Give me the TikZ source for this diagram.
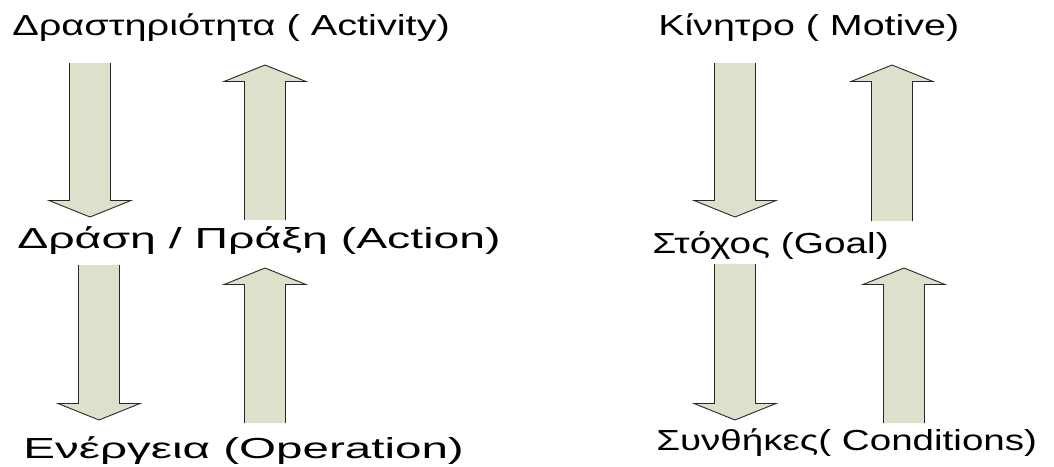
\documentclass[tikz,border=0pt]{standalone}
\usepackage{fontspec}
\setmainfont{Liberation Sans}
\usetikzlibrary{calc}

\definecolor{arrowfill}{RGB}{221,224,202}
\definecolor{arrowedge}{RGB}{40,40,40}

% block arrow: #1 = x of the axis, #2 = y of the tail, #3 = y of the tip
\newcommand{\blockarrow}[3]{%
  \pgfmathsetmacro{\hb}{#3-16.5*sign(#3-#2)}
  \fill [arrowfill] (#1-20.5,#2) -- (#1-20.5,\hb) -- (#1-41,\hb) -- (#1,#3)
    -- (#1+41,\hb) -- (#1+20.5,\hb) -- (#1+20.5,#2) -- cycle;
  \draw [arrowedge, line width=0.9pt, line join=miter]
    (#1-20.5,#2) -- (#1-20.5,\hb) -- (#1-41,\hb) -- (#1,#3)
    -- (#1+41,\hb) -- (#1+20.5,\hb) -- (#1+20.5,#2);
}

\begin{document}
\begin{tikzpicture}[x=1pt,y=-1pt,
    lbl/.style={anchor=base west, inner sep=0pt,
      font=\fontsize{29}{35}\selectfont}]
  \useasboundingbox (0,0) rectangle (1054,466);

  % left column: activity levels
  \node [lbl, xscale=1.37] (activity)  at (12,35)  {Δραστηριότητα ( Activity)};
  \node [lbl, xscale=1.6]  (action)    at (17,248) {Δράση / Πράξη (Action)};
  \node [lbl, xscale=1.64] (operation) at (23,458) {Ενέργεια (Operation)};

  % right column: what each level is directed to
  \node [lbl, xscale=1.36] (motive)     at (658,35)  {Κίνητρο ( Motive)};
  \node [lbl, xscale=1.34] (goal)       at (652,253) {Στόχος (Goal)};
  \node [lbl, xscale=1.33] (conditions) at (656,450) {Συνθήκες( Conditions)};

  \blockarrow{90}{63}{217}
  \blockarrow{265}{220}{65}
  \blockarrow{99}{265}{420}
  \blockarrow{265}{423}{268}

  \blockarrow{735}{63}{217}
  \blockarrow{892}{221}{65}
  \blockarrow{735}{264}{420}
  \blockarrow{904}{423}{268}
\end{tikzpicture}
\end{document}
